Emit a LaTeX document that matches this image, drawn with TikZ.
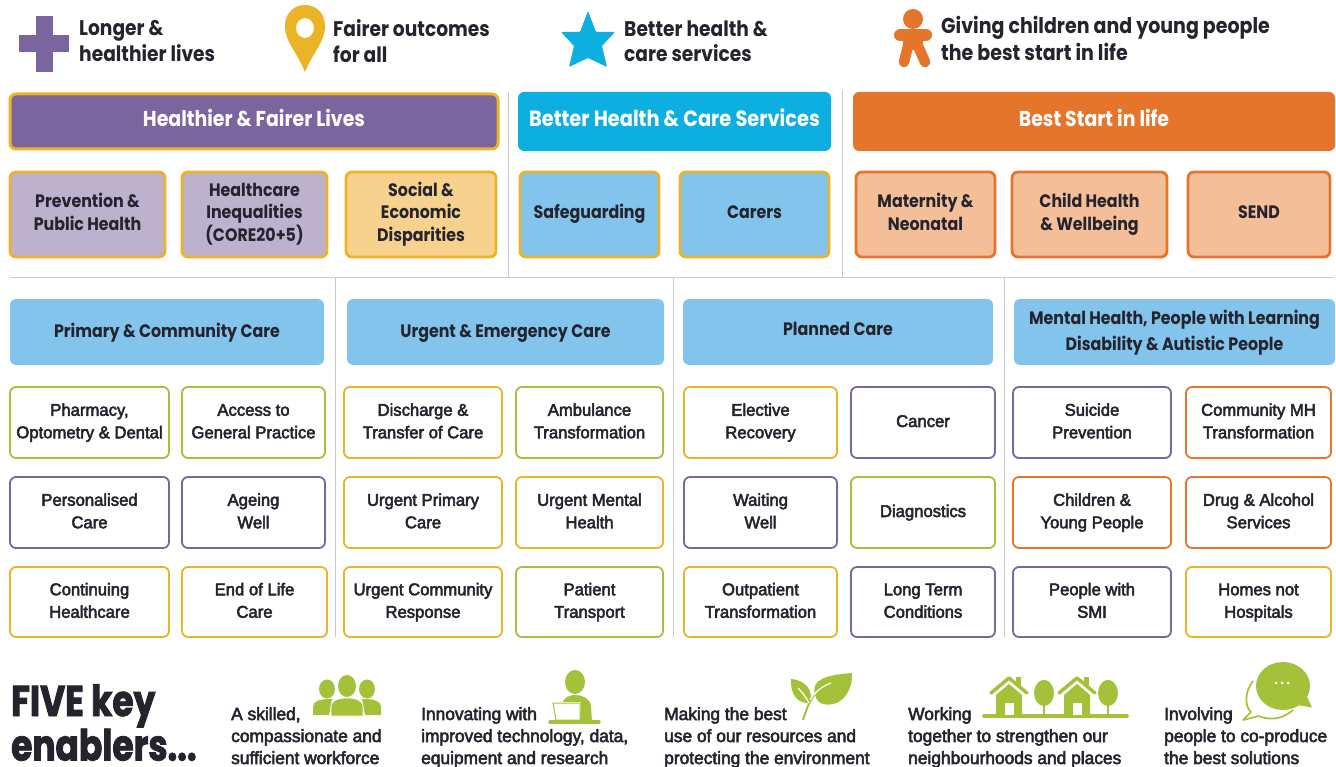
\documentclass[tikz,border=0pt]{standalone}
\usepackage{fontspec}
\setmainfont{Liberation Sans}
\newfontfamily\pop[FakeStretch=0.88]{Poppins}
\newfontfamily\popheavy[FakeStretch=0.8,BoldFeatures={FakeStretch=0.8,FakeBold=2}]{Poppins}
\newfontfamily\lib[FakeBold=3,FakeStretch=0.98]{Liberation Sans}
\definecolor{ink}{HTML}{25242E}
\definecolor{pur}{HTML}{7A659E}
\definecolor{yel}{HTML}{EBB326}
\definecolor{sky}{HTML}{0DAEE0}
\definecolor{org}{HTML}{E5752B}
\definecolor{grn}{HTML}{A3C23A}
\definecolor{lsky}{HTML}{82C4EB}
\definecolor{lpur}{HTML}{BDB2CD}
\definecolor{lyel}{HTML}{F6D28E}
\definecolor{lorg}{HTML}{F4BF98}
\definecolor{sep}{HTML}{C9C9C9}
\tikzset{
  x=1pt,y=-1pt,
  boxbase/.style={rounded corners=6pt,align=center,inner sep=0pt,text=ink},
  banner/.style={boxbase,text=white,font=\pop\bfseries\fontsize{21.5}{24}\selectfont},
  tile/.style={boxbase,line width=2.8pt,font=\pop\bfseries\fontsize{18}{22.5}\selectfont},
  header/.style={boxbase,fill=lsky,font=\pop\bfseries\fontsize{18}{26}\selectfont},
  cell/.style={boxbase,fill=white,line width=1.8pt,font=\lib\fontsize{17}{22.5}\selectfont},
  goal/.style={anchor=west,align=left,inner sep=0pt,text=ink,font=\pop\bfseries\fontsize{21.2}{25.5}\selectfont},
  enabler/.style={anchor=north west,align=left,inner sep=0pt,text=ink,font=\lib\fontsize{17.7}{22}\selectfont},
  sepline/.style={draw=sep,line width=1pt},
}
% name, x1, y1, x2, y2, style, text
\newcommand{\bx}[7]{\node[#6,minimum width=#4pt-#2pt,minimum height=#5pt-#3pt] (#1) at ({(#2+#4)/2},{(#3+#5)/2}) {\strut #7\strut};}
\begin{document}
\begin{tikzpicture}
\useasboundingbox (0,0) rectangle (1336,767);
\fill[white] (0,0) rectangle (1336,767);
% separators
\coordinate (s1a) at (508,92); \coordinate (s1b) at (508,278);
\coordinate (s2a) at (842,90); \coordinate (s2b) at (842,278);
\coordinate (h1) at (10,278); \coordinate (h2) at (1334,278);
\coordinate (s3a) at (335,278); \coordinate (s3b) at (335,637);
\coordinate (s4a) at (673,278); \coordinate (s4b) at (673,637);
\coordinate (s5a) at (1004,278); \coordinate (s5b) at (1004,637);
\draw[sepline] (s1a)--(s1b); \draw[sepline] (s2a)--(s2b); \draw[sepline] (h1)--(h2);
\draw[sepline] (s3a)--(s3b); \draw[sepline] (s4a)--(s4b); \draw[sepline] (s5a)--(s5b);
% goal icons
\fill[pur] (36,16) rectangle (53,72);
\fill[pur] (19,35) rectangle (69,52);
\fill[yel,even odd rule] (305,72) .. controls (297,52) and (285,42) .. (285,26) .. controls (285,13) and (294,5) .. (305,5) .. controls (316,5) and (325,13) .. (325,26) .. controls (325,42) and (313,52) .. (305,72) -- cycle
  (305,28) ellipse [x radius=9,y radius=10];
\fill[sky,rounded corners=1pt] (588,11) -- (596,32) -- (615,32) -- (602,46) -- (607,67) -- (588,58) -- (569,67) -- (574,46) -- (561,32) -- (580,32) -- cycle;
\fill[org] (913,19) circle (10);
\draw[org,line width=12pt,line cap=round] (900,35) -- (926,35);
\fill[org] (903,30) -- (923,30) -- (923,50) -- (903,50) -- cycle;
\draw[org,line width=10.5pt,line cap=round] (908,46) -- (904,62);
\draw[org,line width=10.5pt,line cap=round] (918,46) -- (925,62);
% goal texts
\node[goal] (g1) at (79,41) {Longer \&\\healthier lives};
\node[goal] (g2) at (333,41) {Fairer outcomes\\for all};
\node[goal] (g3) at (624,41) {Better health \&\\care services};
\node[goal,font=\pop\bfseries\fontsize{21.6}{26.5}\selectfont] (g4) at (941,38.5) {Giving children and young people\\the best start in life};
% banners
\bx{b1}{10}{94}{498}{149}{banner,fill=pur,draw=yel,line width=3pt}{Healthier \& Fairer Lives}
\bx{b2}{518}{92}{831}{151}{banner,fill=sky,font=\pop\bfseries\fontsize{22}{27}\selectfont}{Better Health \& Care Services}
\bx{b3}{853}{92}{1335}{151}{banner,fill=org}{Best Start in life}
% second row
\bx{t1}{10}{172}{165}{257}{tile,fill=lpur,draw=yel}{Prevention \&\\Public Health}
\bx{t2}{182}{172}{327}{257}{tile,fill=lpur,draw=yel}{Healthcare\\Inequalities\\(CORE20+5)}
\bx{t3}{346}{172}{496}{257}{tile,fill=lyel,draw=yel}{Social \&\\Economic\\Disparities}
\bx{t4}{520}{172}{659}{257}{tile,fill=lsky,draw=yel}{Safeguarding}
\bx{t5}{680}{172}{829}{257}{tile,fill=lsky,draw=yel}{Carers}
\bx{t6}{856}{172}{995}{257}{tile,fill=lorg,draw=org}{Maternity \&\\Neonatal}
\bx{t7}{1012}{172}{1167}{257}{tile,fill=lorg,draw=org}{Child Health\\\& Wellbeing}
\bx{t8}{1188}{172}{1330}{257}{tile,fill=lorg,draw=org}{SEND}
% headers
\bx{h1n}{10}{299}{324}{365}{header}{Primary \& Community Care}
\bx{h2n}{347}{299}{664}{365}{header}{Urgent \& Emergency Care}
\bx{h3n}{683}{299}{993}{365}{header}{\raisebox{2pt}{Planned Care}}
\bx{h4n}{1014}{299}{1335}{365}{header}{Mental Health, People with Learning\\Disability \& Autistic People}
% row 1
\bx{c11}{10}{387}{169}{458}{cell,draw=grn}{Pharmacy,\\Optometry \& Dental}
\bx{c12}{182}{387}{325}{458}{cell,draw=grn}{Access to\\General Practice}
\bx{c13}{344}{387}{502}{458}{cell,draw=yel}{Discharge \&\\Transfer of Care}
\bx{c14}{516}{387}{663}{458}{cell,draw=grn}{Ambulance\\Transformation}
\bx{c15}{684}{387}{837}{458}{cell,draw=yel}{Elective\\Recovery}
\bx{c16}{851}{387}{995}{458}{cell,draw=pur}{Cancer}
\bx{c17}{1013}{387}{1171}{458}{cell,draw=pur}{Suicide\\Prevention}
\bx{c18}{1186}{387}{1331}{458}{cell,draw=org}{Community MH\\Transformation}
% row 2
\bx{c21}{10}{477}{169}{548}{cell,draw=pur}{Personalised\\Care}
\bx{c22}{182}{477}{325}{548}{cell,draw=pur}{Ageing\\Well}
\bx{c23}{344}{477}{502}{548}{cell,draw=yel}{Urgent Primary\\Care}
\bx{c24}{516}{477}{663}{548}{cell,draw=yel}{Urgent Mental\\Health}
\bx{c25}{684}{477}{837}{548}{cell,draw=pur}{Waiting\\Well}
\bx{c26}{851}{477}{995}{548}{cell,draw=grn}{Diagnostics}
\bx{c27}{1013}{477}{1171}{548}{cell,draw=org}{Children \&\\Young People}
\bx{c28}{1186}{477}{1331}{548}{cell,draw=org}{Drug \& Alcohol\\Services}
% row 3
\bx{c31}{10}{567}{169}{637}{cell,draw=yel}{Continuing\\Healthcare}
\bx{c32}{182}{567}{327}{637}{cell,draw=yel}{End of Life\\Care}
\bx{c33}{344}{567}{502}{637}{cell,draw=yel}{Urgent Community\\Response}
\bx{c34}{516}{567}{663}{637}{cell,draw=grn}{Patient\\Transport}
\bx{c35}{684}{567}{837}{637}{cell,draw=yel}{Outpatient\\Transformation}
\bx{c36}{851}{567}{995}{637}{cell,draw=pur}{Long Term\\Conditions}
\bx{c37}{1013}{567}{1171}{637}{cell,draw=pur}{People with\\SMI}
\bx{c38}{1186}{567}{1331}{637}{cell,draw=yel}{Homes not\\Hospitals}
% enablers title
\node[anchor=north west,align=left,inner sep=0pt,text=ink,font=\popheavy\bfseries\fontsize{43}{44.5}\selectfont] (five) at (11,684) {FIVE key\\enablers...};
\node[enabler] (e1) at (231,707) {A skilled,\\compassionate and\\sufficient workforce};
\node[enabler] (e2) at (421,707) {Innovating with\\improved technology, data,\\equipment and research};
\node[enabler] (e3) at (664,707) {Making the best\\use of our resources and\\protecting the environment};
\node[enabler] (e4) at (908,707) {Working\\together to strengthen our\\neighbourhoods and places};
\node[enabler] (e5) at (1164,707) {Involving\\people to co-produce\\the best solutions};
% people icon
\fill[grn] (327,689) ellipse [x radius=8,y radius=9.5];
\fill[grn] (367,689) ellipse [x radius=8,y radius=9.5];
\fill[grn] (313,715) -- (313,707) .. controls (313,701) and (320,699) .. (330,699) -- (332,699) -- (329,715) -- cycle;
\fill[grn] (381,715) -- (381,707) .. controls (381,701) and (374,699) .. (364,699) -- (362,699) -- (365,715) -- cycle;
\fill[grn] (347,686) ellipse [x radius=9,y radius=11];
\fill[grn,draw=white,line width=.8pt] (331,716) -- (331,707) .. controls (331,700) and (338,698) .. (347,698) .. controls (356,698) and (363,700) .. (363,707) -- (363,716) -- cycle;
% laptop person icon
\fill[grn] (575,682) ellipse [x radius=10,y radius=12];
\fill[grn] (558,722) -- (562,704) .. controls (564,697) and (570,695) .. (575,695) .. controls (582,695) and (590,698) .. (591,706) -- (592,722) -- cycle;
\fill[white] (553,702) -- (581,702) -- (580,722) -- (556,722) -- cycle;
\draw[grn,line width=1pt] (553,703) -- (580,703) -- (580,720) -- (556,720) -- cycle;
\draw[grn,line width=3.4pt,line cap=round] (550,722) -- (599,722);
% leaf icon
\fill[grn] (815,694) .. controls (811,680) and (825,675) .. (852,673) .. controls (853,690) and (842,708) .. (823,704) .. controls (819,703) and (816,700) .. (815,694) -- cycle;
\fill[grn] (791,679) .. controls (805,680) and (814,690) .. (810,703) .. controls (798,704) and (790,695) .. (791,679) -- cycle;
\draw[grn,line width=2pt] (803,720) .. controls (807,707) and (810,700) .. (816,693);
\draw[white,line width=1.2pt] (810,700) .. controls (815,692) and (822,686) .. (831,683);
\draw[white,line width=1.2pt] (809,703) .. controls (806,697) and (802,692) .. (798,688);
% houses icon
\draw[grn,line width=3.6pt,line cap=round] (984,716) -- (1127,716);
\foreach \hx in {1009,1077}{
  \draw[grn,line width=3.5pt,line cap=round,line join=round] (\hx-18,693) -- (\hx,678) -- (\hx+18,693);
  \fill[grn] (\hx+7,677) rectangle (\hx+12,686);
  \fill[grn] (\hx,684) -- (\hx+13,695) -- (\hx+13,715) -- (\hx-13,715) -- (\hx-13,695) -- cycle;
  \fill[white] (\hx-4.5,703) rectangle (\hx+4.5,715);
}
\foreach \tx in {1044,1108}{
  \fill[grn] (\tx,693) ellipse [x radius=10,y radius=13];
  \fill[grn] (\tx,686) circle (6);
  \draw[grn,line width=1.6pt] (\tx,700) -- (\tx,716);
}
% speech icon
\fill[grn] (1283,686) ellipse [x radius=27,y radius=24];
\fill[grn] (1304,690) -- (1312,707.5) -- (1292,704) -- cycle;
\fill[white] (1276,683) circle (1.5) (1282,683) circle (1.5) (1288,683) circle (1.5);
\draw[grn,line width=1.7pt,line join=round] (1253,681) .. controls (1244,692) and (1245,707) .. (1251,712) -- (1243,720) -- (1259,716) .. controls (1273,722) and (1285,717) .. (1293,710);
\end{tikzpicture}
\end{document}
